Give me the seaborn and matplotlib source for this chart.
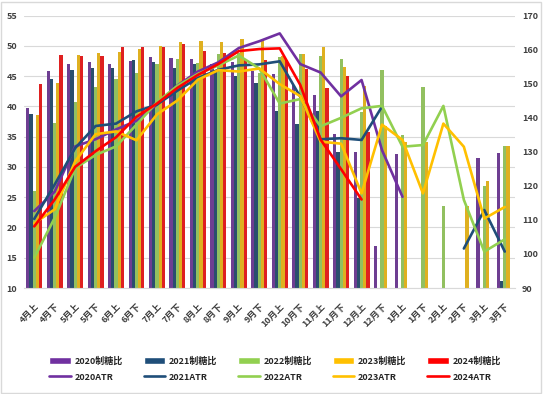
import numpy as np
import pandas as pd
import matplotlib
matplotlib.use("Agg")
import matplotlib.pyplot as plt
from matplotlib.patches import Patch, Rectangle
from matplotlib.lines import Line2D
import seaborn as sns

nan = np.nan

periods = ["4月上", "4月下", "5月上", "5月下", "6月上", "6月下", "7月上", "7月下",
           "8月上", "8月下", "9月上", "9月下", "10月上", "10月下", "11月上", "11月下",
           "12月上", "12月下", "1月上", "1月下", "2月上", "2月下", "3月上", "3月下"]
years = ["2020", "2021", "2022", "2023", "2024"]

# 制糖比 (left axis)
mix_2020 = [39.8, 45.9, 47.1, 47.4, 47.1, 47.5, 48.1, 48.0, 47.8, 47.0, 47.4, 45.8,
            45.4, 43.6, 41.9, 35.4, 32.4, 17.0, 32.2, nan, nan, nan, 31.5, 32.3]
mix_2021 = [38.8, 44.6, 46.0, 46.3, 46.3, 47.6, 47.3, 46.3, 47.0, 46.0, 45.0, 43.9,
            39.3, 37.1, 39.2, 32.5, 24.8, nan, nan, nan, nan, nan, nan, 11.2]
mix_2022 = [26.1, 37.3, 40.8, 43.2, 44.6, 45.5, 47.1, 47.9, 47.2, 48.6, 48.8, 45.5,
            48.2, 48.6, 48.4, 47.8, 39.1, 46.0, 35.3, 43.2, 23.6, nan, 26.9, 33.5]
mix_2023 = [38.6, 43.8, 48.5, 48.8, 49.0, 49.5, 50.0, 50.7, 50.9, 50.7, 51.1, 51.0,
            48.3, 48.7, 49.9, 46.6, 43.4, 36.8, 34.1, 34.2, nan, 23.5, 27.7, 33.5]
mix_2024 = [43.7, 48.5, 48.3, 48.4, 49.8, 49.9, 49.8, 50.3, 49.2, 48.9, 47.7, 47.7,
            47.6, 46.2, 43.0, 45.0, 35.7, nan, nan, nan, nan, nan, nan, nan]

# ATR (right axis)
atr_2020 = [112.6, 118.3, 131.6, 133.7, 136.6, 139.1, 143.9, 149.5, 153.6, 156.3, 160.5, 162.5,
            164.8, 155.8, 153.3, 146.3, 151.1, 130.5, 116.8, nan, nan, nan, nan, nan]
atr_2021 = [110.3, 120.4, 131.1, 137.6, 138.3, 141.9, 143.9, 148.0, 151.7, 154.1, 155.4, 155.7,
            156.6, 146.2, 133.7, 134.0, 133.5, 143.3, nan, nan, nan, 101.6, 112.9, 100.7]
atr_2022 = [98.9, 110.6, 125.2, 129.1, 131.6, 138.0, 144.6, 149.4, 152.9, 155.4, 158.3, 154.5,
            144.2, 145.5, 137.5, 140.0, 142.8, 143.5, 131.5, 132.0, 143.5, 115.9, 100.7, 104.3]
atr_2023 = [109.0, 113.1, 127.2, 135.2, 136.0, 133.4, 141.0, 145.1, 151.2, 154.0, 153.6, 154.5,
            149.9, 146.4, 133.0, 132.4, 117.8, 138.0, 133.5, 117.8, 138.3, 131.5, 110.4, 113.8]
atr_2024 = [108.1, 116.0, 125.6, 130.2, 134.3, 140.3, 144.2, 148.8, 152.6, 155.8, 159.6, 160.2,
            160.4, 149.7, 133.6, 124.9, 116.0, nan, nan, nan, nan, nan, nan, nan]

colors = ["#7030A0", "#1F4E79", "#92D050", "#FFC000", "#FF0000"]

mix = pd.DataFrame({"period": periods, "2020": mix_2020, "2021": mix_2021, "2022": mix_2022,
                    "2023": mix_2023, "2024": mix_2024})
mix_long = mix.melt(id_vars="period", var_name="year", value_name="mix").dropna()

atr = pd.DataFrame({"pos": range(len(periods)), "2020": atr_2020, "2021": atr_2021,
                    "2022": atr_2022, "2023": atr_2023, "2024": atr_2024})
atr_long = atr.melt(id_vars="pos", var_name="year", value_name="atr")
# break lines where data is missing
atr_long["seg"] = atr_long.groupby("year")["atr"].transform(lambda s: s.isna().cumsum())
atr_long["seg"] = atr_long["year"] + "-" + atr_long["seg"].astype(str)
atr_long = atr_long.dropna()

sns.set_style("white")
plt.rcParams["font.family"] = ["Noto Sans CJK SC", "DejaVu Sans"]

fig = plt.figure(figsize=(5.43, 3.94), dpi=100)
ax = fig.add_axes([24 / 543, 1 - 288 / 394, 491 / 543, 272.3 / 394])

sns.barplot(data=mix_long, x="period", y="mix", hue="year", order=periods, hue_order=years,
            palette=colors, errorbar=None, width=0.78, linewidth=0, legend=False, ax=ax)
ax.set_ylim(10, 55)
ax.set_yticks(range(10, 56, 5))
ax.set_xlim(-0.5, len(periods) - 0.5)
ax.set_axisbelow(True)
ax.yaxis.grid(True, color="#d9d9d9", lw=0.8)
ax.set_xlabel("")
ax.set_ylabel("")
for s in ["top", "left", "right"]:
    ax.spines[s].set_visible(False)
ax.spines["bottom"].set_color("#d9d9d9")
ax.set_xticks(range(len(periods)))
ax.set_xticklabels(periods, rotation=45, ha="right", rotation_mode="anchor", fontweight="bold")
ax.tick_params(axis="x", length=0, pad=10, labelsize=6.5, colors="#404040")
ax.tick_params(axis="y", length=0, pad=5, labelsize=6.5, colors="#404040")
for t in ax.get_yticklabels():
    t.set_fontweight("bold")

ax2 = ax.twinx()
sns.lineplot(data=atr_long, x="pos", y="atr", hue="year", units="seg", estimator=None,
             hue_order=years, palette=colors, lw=1.9, legend=False, ax=ax2)
ax2.set_ylim(90, 170)
ax2.set_yticks(range(90, 171, 10))
ax2.set_xlim(-0.5, len(periods) - 0.5)
ax2.set_ylabel("")
ax2.grid(False)
for s in ax2.spines.values():
    s.set_visible(False)
ax2.tick_params(axis="y", length=0, pad=5, labelsize=6.5, colors="#404040")
for t in ax2.get_yticklabels():
    t.set_fontweight("bold")

handles = []
for y, c in zip(years, colors):
    handles.append(Patch(facecolor=c, label=y + "制糖比"))
    handles.append(Line2D([], [], color=c, lw=1.9, label=y + "ATR"))
fig.legend(handles=handles, loc="center", bbox_to_anchor=(275 / 543, 1 - 369 / 394), ncol=5,
           frameon=False, prop={"size": 6.5, "weight": "bold"}, handlelength=2.4,
           handleheight=0.9, handletextpad=0.4, columnspacing=2.3, labelspacing=0.8)

fig.patches.append(Rectangle((0.002, 0.003), 0.995, 0.993, transform=fig.transFigure,
                             fill=False, ec="#d9d9d9", lw=1))

fig.savefig("out.png", dpi=100)
